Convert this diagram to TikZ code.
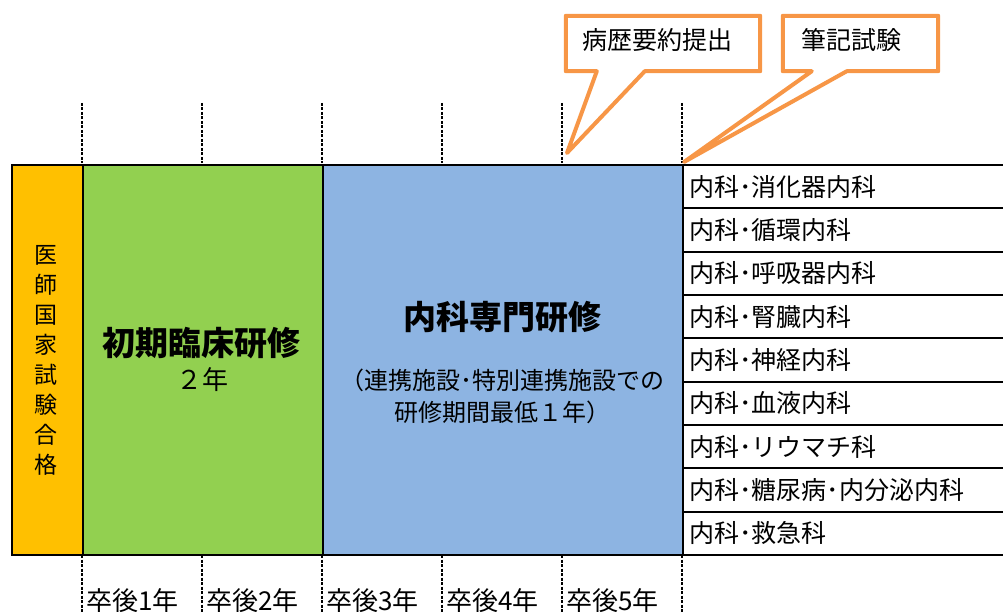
\documentclass[tikz,border=0pt]{standalone}
\usepackage{fontspec}
\setmainfont{Noto Sans CJK JP}
\usetikzlibrary{calc}
\definecolor{passc}{HTML}{FFC000}
\definecolor{initc}{HTML}{92D050}
\definecolor{specc}{HTML}{8DB4E2}
\definecolor{callc}{HTML}{F79646}
\begin{document}
\begin{tikzpicture}[x=1pt,y=-1pt,
  block/.style={draw=black, line width=2pt, anchor=north west, inner sep=0pt, minimum height=390pt},
  listrow/.style={draw=black, line width=2pt, anchor=north west, minimum height=43.333pt,
    inner xsep=6pt, inner ysep=0pt, text width=328pt, align=left, font=\fontsize{25}{25}\selectfont},
  guide/.style={black, line width=1.3pt, dash pattern=on 3pt off 1.5pt},
  callout/.style={draw=callc, line width=4pt, fill=white, line join=round},
  calltext/.style={inner sep=0pt, font=\fontsize{25}{25}\selectfont},
  yearlab/.style={inner sep=0pt, anchor=base west, font=\fontsize{26}{26}\selectfont},
  bigtitle/.style={inner sep=0pt, font=\fontsize{33}{33}\selectfont\bfseries},
  subtext/.style={inner sep=0pt, align=center, font=\fontsize{24}{32}\selectfont}
]
\useasboundingbox (0,0) rectangle (1003,612);

% main blocks
\node[block, fill=passc, minimum width=71pt] (pass) at (11,164) {};
\node[block, fill=initc, minimum width=240pt] (init) at (82,164) {};
\node[block, fill=specc, minimum width=360pt] (spec) at (322,164) {};

% list rows
\foreach \t [count=\i from 0] in {内科･消化器内科,内科･循環内科,内科･呼吸器内科,内科･腎臓内科,内科･神経内科,内科･血液内科,内科･リウマチ科,内科･糖尿病･内分泌内科,内科･救急科}{
  \node[listrow] (row\i) at (682,{164+\i*43.333}) {\t};
}

% texts in blocks
\node[inner sep=0pt, align=center, font=\fontsize{23}{30}\selectfont] (passtext) at (46,360)
  {医\\師\\国\\家\\試\\験\\合\\格};
\node[bigtitle] (inittitle) at (201,343) {初期臨床研修};
\node[inner sep=0pt, font=\fontsize{26}{26}\selectfont] (inityears) at (202,380) {２年};
\node[bigtitle] (spectitle) at (502,317) {内科専門研修};
\node[subtext] (specsub) at (502,396) {（連携施設･特別連携施設での\\研修期間最低１年）};

% dashed year guides
\foreach \x in {82,202,322,442,562,682}{
  \draw[guide] (\x,103) -- (\x,163);
  \draw[guide] (\x,555) -- (\x,612);
}

% year labels
\node[yearlab] (y1) at (86,610) {卒後1年};
\node[yearlab] (y2) at (206,610) {卒後2年};
\node[yearlab] (y3) at (326,610) {卒後3年};
\node[yearlab] (y4) at (446,610) {卒後4年};
\node[yearlab] (y5) at (566,610) {卒後5年};

% callouts
\coordinate (tip1) at (567,153);
\coordinate (tip2) at (684,162);
\node[minimum width=194pt, minimum height=55pt, inner sep=0pt] (c1) at (663,43.5) {};
\node[minimum width=155pt, minimum height=55pt, inner sep=0pt] (c2) at (860.5,43.5) {};
\draw[callout] (c1.north west) -- (c1.north east) -- (c1.south east)
  -- ($(c1.south west)+(79,0)$) -- (tip1) -- ($(c1.south west)+(31,0)$) -- (c1.south west) -- cycle;
\draw[callout] (c2.north west) -- (c2.north east) -- (c2.south east)
  -- ($(c2.south west)+(64,0)$) -- (tip2) -- ($(c2.south west)+(29,0)$) -- (c2.south west) -- cycle;
\node[calltext] (c1text) at (657,40) {病歴要約提出};
\node[calltext] (c2text) at (851,40) {筆記試験};
\end{tikzpicture}
\end{document}
